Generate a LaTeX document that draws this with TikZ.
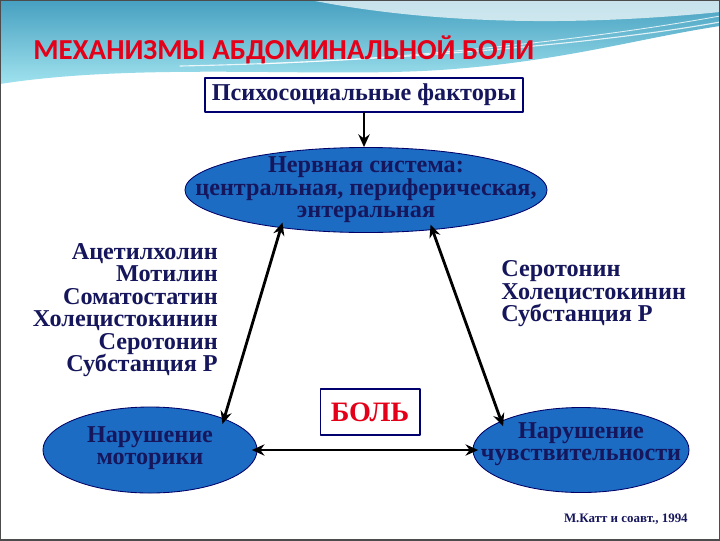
\documentclass[tikz,border=0pt]{standalone}
\usepackage{fontspec}
\setmainfont{Liberation Serif}
\newfontfamily\titlefont{Carlito}
\usetikzlibrary{shapes.geometric,positioning,arrows.meta}

\definecolor{slidered}{RGB}{228,0,24}
\definecolor{inkblue}{RGB}{22,22,92}
\definecolor{ovalblue}{RGB}{28,108,196}
\definecolor{boxnavy}{RGB}{0,0,110}
\definecolor{waveteal}{RGB}{70,160,192}
\definecolor{wavecyan}{RGB}{160,226,238}

\tikzset{
	bigtext/.style={font=\bfseries\fontsize{17.2}{16}\selectfont, text=inkblue},
	oval/.style={ellipse, draw=black!60!blue, line width=0.6pt, fill=ovalblue, inner sep=0pt},
	ovaltext/.style={bigtext, align=center, inner sep=0pt},
	framebox/.style={draw=boxnavy, line width=1.4pt, fill=white, inner sep=0pt},
	link/.style={<->, line width=2pt}
}

\begin{document}
\begin{tikzpicture}[x=0.025cm, y=-0.025cm, line join=round, line cap=round, >={Stealth[length=9pt,width=8pt]}]
	\useasboundingbox (0,0) rectangle (720,540);
	
	% Фон слайда
	\fill[white] (0,0) rectangle (720,540);
	\shade[top color=waveteal, bottom color=wavecyan] (0,0) -- (720,0) -- (720,26) .. controls (640,38) and (560,62) .. (440,70) .. controls (320,78) and (140,62) .. (0,84) -- cycle;
	\fill[white, opacity=0.7] (310,0) .. controls (420,22) and (560,28) .. (720,12) -- (720,0) -- cycle;
	\draw[white, line width=0.8pt, opacity=0.8] (180,66) .. controls (380,62) and (600,44) .. (720,22);
	\draw[white, line width=0.6pt, opacity=0.8] (260,64) .. controls (420,58) and (600,38) .. (720,16);
	\draw[gray!60!black, line width=0.8pt] (0,0) rectangle (720,540);
	
	% Заголовок
	\node[anchor=west, inner sep=0pt, text=slidered, font=\titlefont\bfseries\fontsize{20.6}{24}\selectfont] (title) at (33,50) {МЕХАНИЗМЫ АБДОМИНАЛЬНОЙ БОЛИ};
	
	% Узлы схемы
	\node[framebox, bigtext, minimum width=7.95cm, minimum height=0.85cm] (psych) at (364,95) {Психосоциальные факторы};
	\node[oval, minimum width=9.05cm, minimum height=2.125cm] (nerv) at (366,190) {};
	\node[ovaltext] (nervtext) at (nerv) {Нервная система:\\центральная, периферическая,\\энтеральная};
	\node[oval, minimum width=5.35cm, minimum height=2.15cm] (motor) at (150,450) {};
	\node[ovaltext] (motortext) at (150,448) {Нарушение\\моторики};
	\node[oval, minimum width=5.4cm, minimum height=2.125cm] (sens) at (581,450) {};
	\node[ovaltext] (senstext) at (581,444) {Нарушение\\чувствительности};
	\node[framebox, minimum width=2.475cm, minimum height=1.15cm, text=slidered, font=\bfseries\fontsize{20}{24}\selectfont] (pain) at (370,412) {БОЛЬ};
	
	% Медиаторы
	\node[bigtext, anchor=east, align=right, inner sep=0pt] (leftlist) at (218,310) {Ацетилхолин\\Мотилин\\Соматостатин\\Холецистокинин\\Серотонин\\Субстанция Р};
	\node[bigtext, anchor=west, align=left, inner sep=0pt] (rightlist) at (501,294) {Серотонин\\Холецистокинин\\Субстанция Р};
	
	% Стрелки
	\draw[->, line width=2pt] (psych.south) -- (psych.south |- nerv.north);
	\foreach \from/\to in {nerv.204/motor.23, nerv.-31/sens.160, motor.east/sens.west} {
		\draw[link, shorten <=-4pt, shorten >=-4pt] (\from) -- (\to);
	}
	
	% Источник
	\node[anchor=east, inner sep=0pt, text=inkblue, font=\bfseries\fontsize{9.2}{10}\selectfont] (source) at (688,519) {М.Катт и соавт., 1994};
\end{tikzpicture}
\end{document}
